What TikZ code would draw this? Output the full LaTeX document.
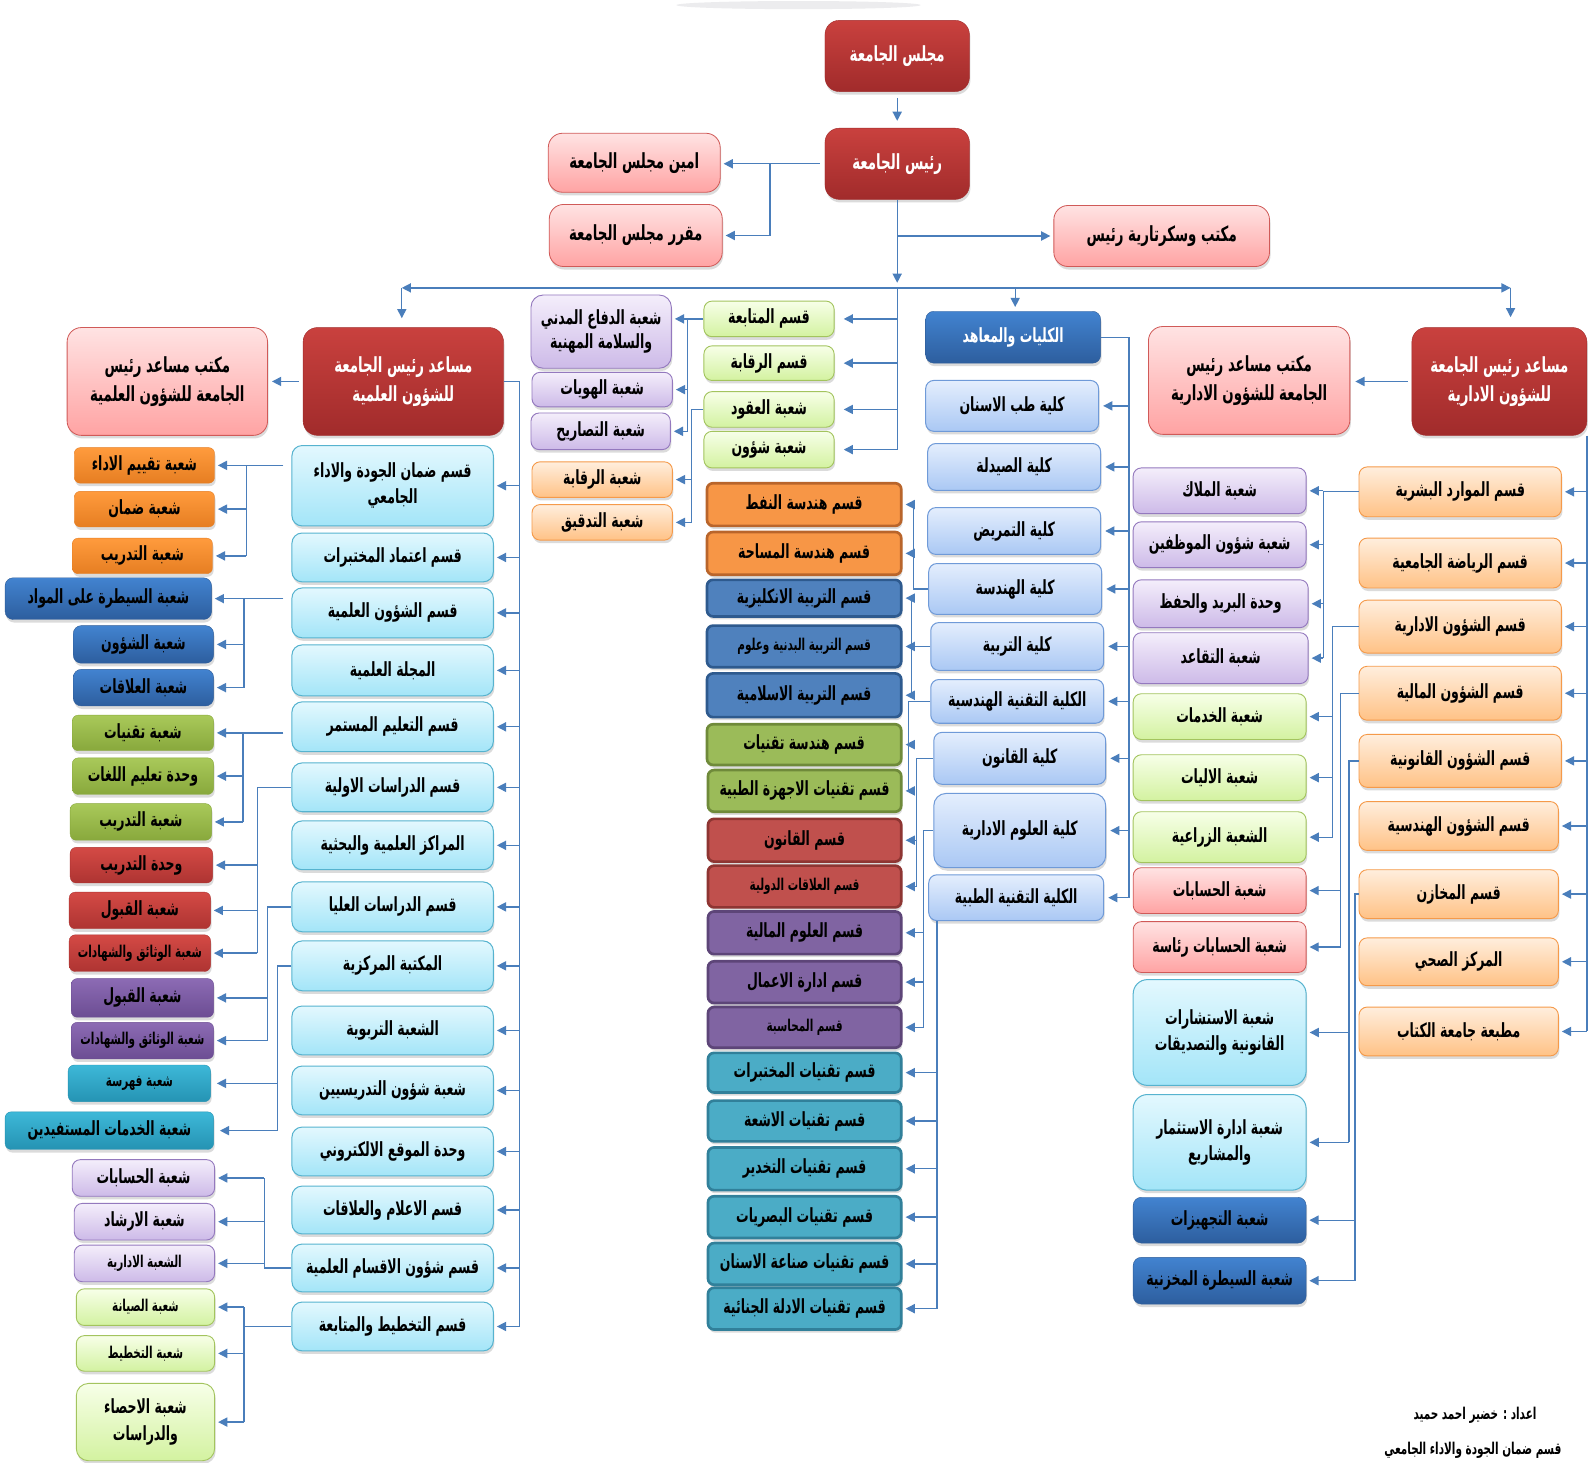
\documentclass[tikz,border=0pt]{standalone}
\usepackage{fontspec}
\usepackage{graphicx}
\newfontfamily\ar[Script=Arabic]{DejaVu Sans}
\TeXXeTstate=1
\usetikzlibrary{arrows.meta,shadows,calc}
\newcommand\A[1]{\scalebox{0.82}[1.28]{\beginR#1\endR}}
\newcommand\fM{\ar\bfseries\fontsize{15}{26}\selectfont}
\newcommand\fL{\ar\bfseries\fontsize{16}{28}\selectfont}
\newcommand\fS{\ar\bfseries\fontsize{12.5}{16}\selectfont}
\newcommand\BX[7]{\node[#1,minimum width={#5-#3},minimum height={#6-#4}] (#2) at ({(#3+#5)/2},{(#4+#6)/2}) {#7};}
\definecolor{cl}{HTML}{4A7EBB}
\definecolor{dredT}{HTML}{C9413E}\definecolor{dredB}{HTML}{A12B2B}
\definecolor{pinkT}{HTML}{FFE3E3}\definecolor{pinkB}{HTML}{FFA3A3}\definecolor{pinkD}{HTML}{D05A58}
\definecolor{cyanT}{HTML}{E3F8FE}\definecolor{cyanB}{HTML}{A3E5F8}\definecolor{cyanD}{HTML}{56B3CF}
\definecolor{facT}{HTML}{E4EEFD}\definecolor{facB}{HTML}{AAC8F4}\definecolor{facD}{HTML}{6F9AD8}
\definecolor{dbT}{HTML}{4283D0}\definecolor{dbB}{HTML}{2D5E9E}\definecolor{dbD}{HTML}{2F5D98}
\definecolor{orT}{HTML}{FF9B3D}\definecolor{orB}{HTML}{E67E22}
\definecolor{olT}{HTML}{A9C95A}\definecolor{olB}{HTML}{88A83C}
\definecolor{rdT}{HTML}{D44A45}\definecolor{rdB}{HTML}{AE3432}
\definecolor{puT}{HTML}{8C6BB4}\definecolor{puB}{HTML}{6C4D93}
\definecolor{teT}{HTML}{3DB8D8}\definecolor{teB}{HTML}{2593B3}
\definecolor{lpT}{HTML}{F4EEFB}\definecolor{lpB}{HTML}{CDBAE8}\definecolor{lpD}{HTML}{9479BE}
\definecolor{lgT}{HTML}{F7FFE8}\definecolor{lgB}{HTML}{D3F2A0}\definecolor{lgD}{HTML}{A3C45E}
\definecolor{peT}{HTML}{FFEEDD}\definecolor{peB}{HTML}{FFC286}\definecolor{peD}{HTML}{F59A4A}
\definecolor{mOrF}{HTML}{F79646}\definecolor{mOrD}{HTML}{B9652B}
\definecolor{mBlF}{HTML}{4F81BD}\definecolor{mBlD}{HTML}{2E5A8E}
\definecolor{mGrF}{HTML}{9BBB59}\definecolor{mGrD}{HTML}{6F8A3A}
\definecolor{mRdF}{HTML}{C0504D}\definecolor{mRdD}{HTML}{8E3532}
\definecolor{mPuF}{HTML}{8064A2}\definecolor{mPuD}{HTML}{5D4578}
\definecolor{mTeF}{HTML}{4BACC6}\definecolor{mTeD}{HTML}{31809A}
\tikzset{
 bxbase/.style={rounded corners=8pt, align=center, inner sep=1pt, text=black, font=\fM,
   drop shadow={opacity=0.28, shadow xshift=1pt, shadow yshift=-3pt}},
 dred/.style={bxbase, rounded corners=14pt, top color=dredT, bottom color=dredB, draw=dredB, text=white, font=\fL},
 pinkb/.style={bxbase, rounded corners=14pt, top color=pinkT, bottom color=pinkB, draw=pinkD, line width=0.8pt, font=\fL},
 pinks/.style={bxbase, top color=pinkT, bottom color=pinkB, draw=pinkD, line width=0.8pt},
 cyanb/.style={bxbase, rounded corners=10pt, top color=cyanT, bottom color=cyanB, draw=cyanD, line width=1pt},
 facb/.style={bxbase, top color=facT, bottom color=facB, draw=facD, line width=1pt},
 dblueb/.style={bxbase, top color=dbT, bottom color=dbB, draw=dbD},
 orb/.style={bxbase, rounded corners=6pt, top color=orT, bottom color=orB, draw=orB},
 olb/.style={bxbase, rounded corners=6pt, top color=olT, bottom color=olB, draw=olB},
 rdb/.style={bxbase, rounded corners=6pt, top color=rdT, bottom color=rdB, draw=rdB},
 pub/.style={bxbase, rounded corners=6pt, top color=puT, bottom color=puB, draw=puB},
 teb/.style={bxbase, rounded corners=6pt, top color=teT, bottom color=teB, draw=teB},
 lpb/.style={bxbase, top color=lpT, bottom color=lpB, draw=lpD, line width=0.9pt},
 lgb/.style={bxbase, top color=lgT, bottom color=lgB, draw=lgD, line width=0.9pt},
 peb/.style={bxbase, top color=peT, bottom color=peB, draw=peD, line width=0.9pt},
 mid/.style={bxbase, rounded corners=6pt, line width=2.6pt},
 mor/.style={mid, fill=mOrF, draw=mOrD},
 mbl/.style={mid, fill=mBlF, draw=mBlD},
 mgr/.style={mid, fill=mGrF, draw=mGrD},
 mrd/.style={mid, fill=mRdF, draw=mRdD},
 mpu/.style={mid, fill=mPuF, draw=mPuD},
 mte/.style={mid, fill=mTeF, draw=mTeD},
 cline/.style={draw=cl, line width=1.3pt},
 conn/.style={cline, -{Triangle[length=9pt,width=9pt]}, shorten >=3pt},
 credit/.style={font=\ar\bfseries\fontsize{12.5}{14}\selectfont, inner sep=0pt}
}
\begin{document}
\begin{tikzpicture}[x=1pt,y=-1pt]
\useasboundingbox (0,0) rectangle (1568,1438);
\fill[white] (0,0) rectangle (1568,1438);
\fill[blue!6!gray!14] (785,5) ellipse (120pt and 4pt);
% ---------- top
\BX{dred}{council}{811}{20}{953}{90}{\A{مجلس الجامعة}}
\BX{dred}{pres}{811}{126}{953}{196}{\A{رئيس الجامعة}}
\BX{pinkb}{amin}{539}{131}{708}{189}{\A{امين مجلس الجامعة}}
\BX{pinkb}{muqarrir}{540}{201}{710}{262}{\A{مقرر مجلس الجامعة}}
\BX{pinkb}{sec}{1036}{202}{1248}{262}{\A{مكتب وسكرتارية رئيس}}
% ---------- science VP
\BX{dred}{sciVP}{298}{322}{495}{428}{\A{مساعد رئيس الجامعة}\\\A{للشؤون العلمية}}
\BX{pinkb}{sciOff}{66}{322}{263}{428}{\A{مكتب مساعد رئيس}\\\A{الجامعة للشؤون العلمية}}
\BX{cyanb}{q1}{287}{438}{485}{517}{\A{قسم ضمان الجودة والاداء}\\\A{الجامعي}}
\BX{cyanb}{q2}{287}{524}{485}{572}{\A{قسم اعتماد المختبرات}}
\BX{cyanb}{q3}{287}{578}{485}{627}{\A{قسم الشؤون العلمية}}
\BX{cyanb}{q4}{287}{634}{485}{684}{\A{المجلة العلمية}}
\BX{cyanb}{q5}{287}{690}{485}{739}{\A{قسم التعليم المستمر}}
\BX{cyanb}{q6}{287}{750}{485}{798}{\A{قسم الدراسات الاولية}}
\BX{cyanb}{q7}{287}{807}{485}{855}{\A{المراكز العلمية والبحثية}}
\BX{cyanb}{q8}{287}{867}{485}{916}{\A{قسم الدراسات العليا}}
\BX{cyanb}{q9}{287}{925}{485}{974}{\A{المكتبة المركزية}}
\BX{cyanb}{q10}{287}{989}{485}{1037}{\A{الشعبة التربوية}}
\BX{cyanb}{q11}{287}{1048}{485}{1096}{\A{شعبة شؤون التدريسيين}}
\BX{cyanb}{q12}{287}{1108}{485}{1156}{\A{وحدة الموقع الالكتروني}}
\BX{cyanb}{q13}{287}{1166}{485}{1213}{\A{قسم الاعلام والعلاقات}}
\BX{cyanb}{q14}{287}{1223}{485}{1270}{\A{قسم شؤون الاقسام العلمية}}
\BX{cyanb}{q15}{287}{1280}{485}{1328}{\A{قسم التخطيط والمتابعة}}
% left-most
\BX{orb}{a1}{73}{440}{211}{475}{\A{شعبة تقييم الاداء}}
\BX{orb}{a2}{73}{483}{211}{518}{\A{شعبة ضمان}}
\BX{orb}{a3}{71}{529}{209}{564}{\A{شعبة التدريب}}
\BX{dblueb}{b1}{5}{568}{208}{609}{\A{شعبة السيطرة على المواد}}
\BX{dblueb}{b2}{72}{615}{210}{652}{\A{شعبة الشؤون}}
\BX{dblueb}{b3}{72}{658}{210}{694}{\A{شعبة العلاقات}}
\BX{olb}{c1}{71}{703}{210}{738}{\A{شعبة تقنيات}}
\BX{olb}{c2}{71}{745}{210}{781}{\A{وحدة تعليم اللغات}}
\BX{olb}{c3}{69}{790}{208}{826}{\A{شعبة التدريب}}
\BX{rdb}{d1}{69}{833}{209}{868}{\A{وحدة التدريب}}
\BX{rdb}{d2}{68}{877}{207}{913}{\A{شعبة القبول}}
\BX{rdb,font=\fS}{d3}{68}{919}{207}{955}{\A{شعبة الوثائق والشهادات}}
\BX{pub}{e1}{70}{962}{210}{1000}{\A{شعبة القبول}}
\BX{pub,font=\fS}{e2}{70}{1005}{210}{1041}{\A{شعبة الوثائق والشهادات}}
\BX{teb,font=\fS}{f1}{67}{1047}{207}{1083}{\A{شعبة فهرسة}}
\BX{teb}{f2}{5}{1093}{210}{1130}{\A{شعبة الخدمات المستفيدين}}
\BX{lpb}{g1}{71}{1140}{211}{1176}{\A{شعبة الحسابات}}
\BX{lpb}{g2}{73}{1183}{211}{1219}{\A{شعبة الارشاد}}
\BX{lpb,font=\fS}{g3}{73}{1224}{211}{1260}{\A{الشعبة الادارية}}
\BX{lgb,font=\fS}{h1}{75}{1267}{211}{1303}{\A{شعبة الصيانة}}
\BX{lgb,font=\fS}{h2}{75}{1313}{211}{1348}{\A{شعبة التخطيط}}
\BX{lgb,rounded corners=12pt}{h3}{75}{1360}{211}{1436}{\A{شعبة الاحصاء}\\\A{والدراسات}}
% ---------- middle-left
\BX{lgb}{m1}{692}{296}{820}{331}{\A{قسم المتابعة}}
\BX{lgb}{m2}{692}{340}{820}{374}{\A{قسم الرقابة}}
\BX{lgb}{m3}{692}{385}{820}{420}{\A{شعبة العقود}}
\BX{lgb}{m4}{692}{424}{820}{460}{\A{شعبة شؤون}}
\BX{lpb,rounded corners=12pt,font=\ar\bfseries\fontsize{15}{23}\selectfont}{n1}{522}{290}{660}{362}{\A{شعبة الدفاع المدني}\\\A{والسلامة المهنية}}
\BX{lpb}{n2}{523}{366}{661}{400}{\A{شعبة الهويات}}
\BX{lpb}{n3}{522}{406}{659}{442}{\A{شعبة التصاريح}}
\BX{peb}{o1}{523}{454}{661}{489}{\A{شعبة الرقابة}}
\BX{peb}{o2}{523}{496}{661}{531}{\A{شعبة التدقيق}}
% ---------- middle departments
\BX{mor}{p1}{695}{475}{886}{517}{\A{قسم هندسة النفط}}
\BX{mor}{p2}{695}{523}{886}{565}{\A{قسم هندسة المساحة}}
\BX{mbl}{p3}{695}{570}{886}{606}{\A{قسم التربية الانكليزية}}
\BX{mbl,font=\fS}{p4}{695}{615}{886}{656}{\A{قسم التربية البدنية وعلوم}}
\BX{mbl}{p5}{695}{662}{886}{705}{\A{قسم التربية الاسلامية}}
\BX{mgr}{p6}{695}{712}{886}{752}{\A{قسم هندسة تقنيات}}
\BX{mgr}{p7}{696}{757}{886}{798}{\A{قسم تقنيات الاجهزة الطبية}}
\BX{mrd}{p8}{696}{805}{886}{847}{\A{قسم القانون}}
\BX{mrd,font=\fS}{p9}{696}{851}{886}{892}{\A{قسم العلاقات الدولية}}
\BX{mpu}{p10}{696}{896}{886}{938}{\A{قسم العلوم المالية}}
\BX{mpu}{p11}{696}{945}{886}{986}{\A{قسم ادارة الاعمال}}
\BX{mpu,font=\fS}{p12}{696}{990}{886}{1030}{\A{قسم المحاسبة}}
\BX{mte}{p13}{696}{1035}{886}{1074}{\A{قسم تقنيات المختبرات}}
\BX{mte}{p14}{696}{1082}{886}{1122}{\A{قسم تقنيات الاشعة}}
\BX{mte}{p15}{696}{1128}{886}{1170}{\A{قسم تقنيات التخدير}}
\BX{mte}{p16}{696}{1176}{886}{1217}{\A{قسم تقنيات البصريات}}
\BX{mte}{p17}{696}{1222}{886}{1263}{\A{قسم تقنيات صناعة الاسنان}}
\BX{mte}{p18}{696}{1266}{886}{1307}{\A{قسم تقنيات الادلة الجنائية}}
% ---------- faculties
\BX{dblueb,text=white}{F0}{910}{306}{1082}{357}{\A{الكليات والمعاهد}}
\BX{facb}{F1}{910}{374}{1080}{424}{\A{كلية طب الاسنان}}
\BX{facb}{F2}{912}{436}{1082}{482}{\A{كلية الصيدلة}}
\BX{facb}{F3}{912}{499}{1082}{545}{\A{كلية التمريض}}
\BX{facb}{F4}{913}{554}{1083}{604}{\A{كلية الهندسة}}
\BX{facb}{F5}{915}{612}{1085}{659}{\A{كلية التربية}}
\BX{facb}{F6}{915}{668}{1085}{711}{\A{الكلية التقنية الهندسية}}
\BX{facb}{F7}{918}{720}{1087}{771}{\A{كلية القانون}}
\BX{facb,rounded corners=12pt}{F8}{918}{780}{1087}{853}{\A{كلية العلوم الادارية}}
\BX{facb}{F9}{913}{860}{1085}{905}{\A{الكلية التقنية الطبية}}
% ---------- admin VP
\BX{dred}{R0}{1388}{322}{1560}{428}{\A{مساعد رئيس الجامعة}\\\A{للشؤون الادارية}}
\BX{pinkb}{R1}{1129}{321}{1327}{427}{\A{مكتب مساعد رئيس}\\\A{الجامعة للشؤون الادارية}}
\BX{peb}{r1}{1336}{459}{1535}{508}{\A{قسم الموارد البشرية}}
\BX{peb}{r2}{1336}{529}{1535}{578}{\A{قسم الرياضة الجامعية}}
\BX{peb}{r3}{1336}{590}{1535}{642}{\A{قسم الشؤون الادارية}}
\BX{peb}{r4}{1336}{655}{1535}{708}{\A{قسم الشؤون المالية}}
\BX{peb}{r5}{1336}{722}{1535}{774}{\A{قسم الشؤون القانونية}}
\BX{peb}{r6}{1336}{788}{1532}{836}{\A{قسم الشؤون الهندسية}}
\BX{peb}{r7}{1336}{855}{1532}{903}{\A{قسم المخازن}}
\BX{peb}{r8}{1336}{922}{1532}{969}{\A{المركز الصحي}}
\BX{peb}{r9}{1336}{990}{1532}{1038}{\A{مطبعة جامعة الكتاب}}
\BX{lpb}{s1}{1114}{460}{1284}{505}{\A{شعبة الملاك}}
\BX{lpb}{s2}{1114}{513}{1284}{558}{\A{شعبة شؤون الموظفين}}
\BX{lpb}{s3}{1114}{570}{1286}{617}{\A{وحدة البريد والحفظ}}
\BX{lpb}{s4}{1114}{622}{1286}{672}{\A{شعبة التقاعد}}
\BX{lgb}{s5}{1114}{682}{1284}{727}{\A{شعبة الخدمات}}
\BX{lgb}{s6}{1114}{742}{1284}{787}{\A{شعبة الاليات}}
\BX{lgb}{s7}{1114}{798}{1284}{848}{\A{الشعبة الزراعية}}
\BX{pinks}{s8}{1114}{853}{1284}{898}{\A{شعبة الحسابات}}
\BX{pinks}{s9}{1114}{906}{1284}{956}{\A{شعبة الحسابات رئاسة}}
\BX{cyanb,rounded corners=14pt}{s10}{1114}{963}{1284}{1067}{\A{شعبة الاستشارات}\\\A{القانونية والتصديقات}}
\BX{cyanb,rounded corners=14pt}{s11}{1114}{1076}{1284}{1170}{\A{شعبة ادارة الاستثمار}\\\A{والمشاريع}}
\BX{dblueb}{s12}{1114}{1177}{1284}{1222}{\A{شعبة التجهيزات}}
\BX{dblueb}{s13}{1114}{1236}{1284}{1282}{\A{شعبة السيطرة المخزنية}}
% credits
\node[credit] (cr1) at (1450,1391) {\A{اعداد : خضير احمد حميد}};
\node[credit] (cr2) at (1448,1426) {\A{قسم ضمان الجودة والاداء الجامعي}};
% ---------- spine coordinates
\coordinate (barL) at (395,283);
\coordinate (barR) at (1485,283);
\coordinate (barF) at (998,283);
\coordinate (j1) at (757,0);
\coordinate (kA) at (242,0);
\coordinate (kB) at (240,0);
\coordinate (kC) at (239,0);
\coordinate (kD) at (253,0);
\coordinate (kE) at (263,0);
\coordinate (kF) at (273,0);
\coordinate (kG) at (260,0);
\coordinate (kH) at (240,0);
\coordinate (sS) at (511,0);
\coordinate (kN) at (676,0);
\coordinate (kO) at (680,0);
\coordinate (fS) at (1110,0);
\coordinate (kP1) at (898,0);
\coordinate (kP2) at (896,0);
\coordinate (kP3) at (893,0);
\coordinate (kP4) at (901,0);
\coordinate (kP5) at (908,0);
\coordinate (kP6) at (921,0);
\coordinate (rS) at (1560,0);
\coordinate (kR1) at (1301,0);
\coordinate (kR3) at (1310,0);
\coordinate (kR4) at (1318,0);
\coordinate (kR5) at (1326,0);
\coordinate (kR7) at (1332,0);
% ---------- top connectors
\draw[conn, shorten <=6pt, shorten >=7pt] (council) -- (pres);
\draw[conn, shorten <=5pt] (pres.west) -- (amin.east |- pres.west);
\draw[conn] (pres.west -| j1) |- (muqarrir.east);
\draw[conn, shorten >=5pt] (pres.south) -- (pres.south |- barL);
\draw[conn] (pres.south |- sec.west) -- (sec.west);
\draw[cline, {Triangle[length=9pt,width=9pt]}-{Triangle[length=9pt,width=9pt]}] (barL) -- (barR);
\draw[conn, shorten >=9pt] (barL) -- (barL |- sciVP.north);
\draw[conn, shorten >=4pt] (barF) -- (barF |- F0.north);
\draw[conn, shorten >=10pt] (barR) -- (barR |- R0.north);
% science side
\draw[conn, shorten <=4pt, shorten >=4pt] (sciVP.west) -- (sciOff.east);
\draw[cline] (sciVP.east) -- (sciVP.east -| sS) -- (q15.east -| sS);
\foreach \c in {q1,q2,q3,q4,q5,q6,q7,q8,q9,q10,q11,q12,q13,q14,q15}
  \draw[conn] (\c.east -| sS) -- (\c.east);
\draw[conn, shorten <=8pt] (q1.west |- a1.east) -- (a1.east);
\draw[cline] (a1.east -| kA) -- (a3.east -| kA);
\foreach \c in {a2,a3} \draw[conn] (\c.east -| kA) -- (\c.east);
\draw[conn, shorten <=8pt] (q3.west |- b1.east) -- (b1.east);
\draw[cline] (b1.east -| kB) -- (b3.east -| kB);
\foreach \c in {b2,b3} \draw[conn] (\c.east -| kB) -- (\c.east);
\draw[conn, shorten <=8pt] (q5.west |- c1.east) -- (c1.east);
\draw[cline] (c1.east -| kC) -- (c3.east -| kC);
\foreach \c in {c2,c3} \draw[conn] (\c.east -| kC) -- (\c.east);
\draw[cline] (q6.west) -- (q6.west -| kD) -- (d3.east -| kD);
\foreach \c in {d1,d2,d3} \draw[conn] (\c.east -| kD) -- (\c.east);
\draw[cline] (q8.west) -- (q8.west -| kE) -- (e2.east -| kE);
\foreach \c in {e1,e2} \draw[conn] (\c.east -| kE) -- (\c.east);
\draw[cline] (q9.west) -- (q9.west -| kF) -- (f2.east -| kF);
\foreach \c in {f1,f2} \draw[conn, shorten >=6pt] (\c.east -| kF) -- (\c.east);
\draw[cline] (q14.west) -- (q14.west -| kG) -- (g1.east -| kG);
\foreach \c in {g1,g2,g3} \draw[conn] (\c.east -| kG) -- (\c.east);
\draw[cline] (q15.west) -- (q15.west -| kH);
\draw[cline] (h1.east -| kH) -- (h3.east -| kH);
\foreach \c in {h1,h2,h3} \draw[conn] (\c.east -| kH) -- (\c.east);
% middle-left
\draw[cline] (pres.south |- barL) -- (pres.south |- m4.east);
\foreach \c in {m1,m2,m3,m4} \draw[conn, shorten >=9pt] (pres.south |- \c.east) -- (\c.east);
\draw[conn] (m1.west) -- (n1.east |- m1.west);
\draw[cline] (m1.west -| kN) -- (n3.east -| kN);
\foreach \c in {n2,n3} \draw[conn] (\c.east -| kN) -- (\c.east);
\draw[cline] (m3.west) -- (m3.west -| kO) -- (o2.east -| kO);
\foreach \c in {o1,o2} \draw[conn] (\c.east -| kO) -- (\c.east);
% faculties
\draw[cline] (F0.east) -- (F0.east -| fS) -- (F9.east -| fS);
\foreach \c in {F1,F2,F3,F4,F5,F6,F7,F8,F9} \draw[conn, shorten >=4pt] (\c.east -| fS) -- (\c.east);
\draw[cline] (F4.west) -- (F4.west -| kP1) -- (p1.east -| kP1);
\foreach \c in {p1,p2} \draw[conn] (\c.east -| kP1) -- (\c.east);
\draw[cline] (F5.west) -- (F5.west -| kP2);
\draw[cline] (p3.east -| kP2) -- (p5.east -| kP2);
\foreach \c in {p3,p4,p5} \draw[conn] (\c.east -| kP2) -- (\c.east);
\draw[cline] (F6.west) -- (F6.west -| kP3) -- (p7.east -| kP3);
\foreach \c in {p6,p7} \draw[conn] (\c.east -| kP3) -- (\c.east);
\draw[cline] (F7.west) -- (F7.west -| kP4) -- (p9.east -| kP4);
\foreach \c in {p8,p9} \draw[conn] (\c.east -| kP4) -- (\c.east);
\draw[cline] (F8.west) -- (F8.west -| kP5) -- (p12.east -| kP5);
\foreach \c in {p10,p11,p12} \draw[conn] (\c.east -| kP5) -- (\c.east);
\draw[cline] (F9.south -| kP6) -- (p18.east -| kP6);
\foreach \c in {p13,p14,p15,p16,p17,p18} \draw[conn] (\c.east -| kP6) -- (\c.east);
% admin side
\draw[conn, shorten <=4pt, shorten >=5pt] (R0.west) -- (R1.east |- R0.west);
\draw[cline] (R0.south -| rS) -- (r9.east -| rS);
\foreach \c in {r1,r2,r3,r4,r5,r6,r7,r8,r9} \draw[conn] (\c.east -| rS) -- (\c.east);
\draw[cline] (r1.west) -- (r1.west -| kR1) -- (s4.east -| kR1);
\foreach \c in {s1,s2,s3,s4} \draw[conn] (\c.east -| kR1) -- (\c.east);
\draw[cline] (r3.west) -- (r3.west -| kR3) -- (s7.east -| kR3);
\foreach \c in {s5,s6,s7} \draw[conn] (\c.east -| kR3) -- (\c.east);
\draw[cline] (r4.west) -- (r4.west -| kR4) -- (s9.east -| kR4);
\foreach \c in {s8,s9} \draw[conn] (\c.east -| kR4) -- (\c.east);
\draw[cline] (r5.west) -- (r5.west -| kR5) -- (s11.east -| kR5);
\foreach \c in {s10,s11} \draw[conn] (\c.east -| kR5) -- (\c.east);
\draw[cline] (r7.west) -- (r7.west -| kR7) -- (s13.east -| kR7);
\foreach \c in {s12,s13} \draw[conn] (\c.east -| kR7) -- (\c.east);
\end{tikzpicture}
\end{document}
